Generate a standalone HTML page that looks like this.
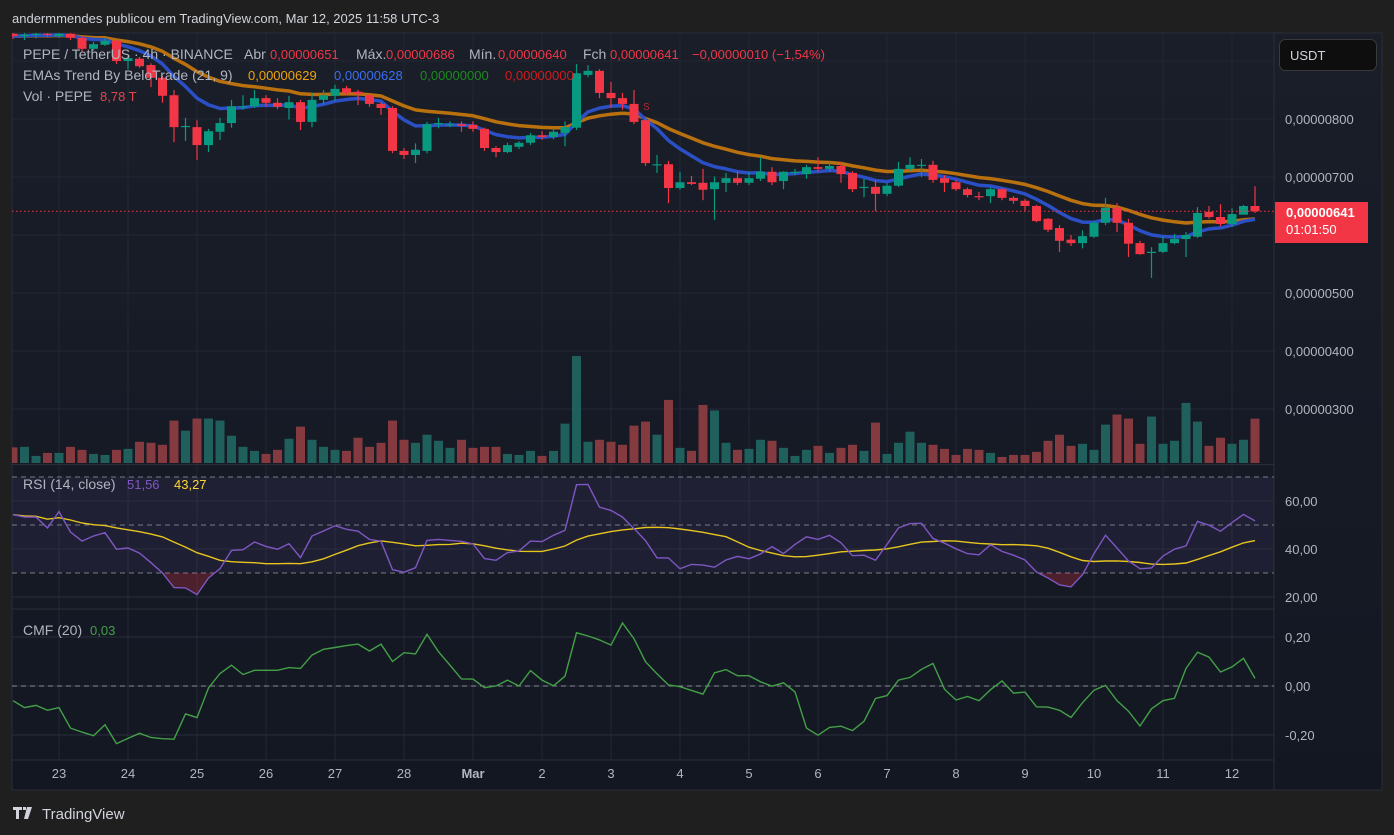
<!DOCTYPE html>
<html><head><meta charset="utf-8">
<style>
html,body{margin:0;padding:0;background:#1f1f1f;}
svg{display:block;font-family:"Liberation Sans",sans-serif;}
</style></head>
<body>
<svg id="chart" width="1394" height="835" viewBox="0 0 1394 835" xmlns="http://www.w3.org/2000/svg">
<defs>
<linearGradient id="bgGrad" x1="0" y1="0" x2="0" y2="1">
<stop offset="0" stop-color="#1a1e29"/><stop offset="1" stop-color="#131722"/>
</linearGradient>
<clipPath id="mainClip"><rect x="12" y="33" width="1262" height="430"/></clipPath>
<clipPath id="rsiClip"><rect x="12" y="466" width="1262" height="142"/></clipPath>
<clipPath id="osClip"><rect x="12" y="573" width="1262" height="40"/></clipPath>
<clipPath id="cmfClip"><rect x="12" y="610" width="1262" height="150"/></clipPath>
</defs>
<rect x="0" y="0" width="1394" height="835" fill="#1f1f1f"/>
<text x="12" y="23" font-size="13" fill="#d1d4dc">andermmendes publicou em TradingView.com, Mar 12, 2025 11:58 UTC-3</text>
<rect x="12" y="33" width="1370" height="757" fill="url(#bgGrad)" stroke="#2a2e39" stroke-width="1"/>
<g id="grid"></g>
<g id="volume" clip-path="url(#mainClip)"></g>
<g id="emas" clip-path="url(#mainClip)"></g>
<g id="candles" clip-path="url(#mainClip)"></g>
<line x1="12" y1="211" x2="1274" y2="211" stroke="#f23645" stroke-width="1" stroke-dasharray="1.5 2.5" id="lastLine"/>
<text x="643" y="110" font-size="10" fill="#b22833">S</text>
<line x1="12" y1="464.5" x2="1274" y2="464.5" stroke="#2a2e39"/>
<line x1="12" y1="609" x2="1274" y2="609" stroke="#2a2e39"/>
<line x1="12" y1="760" x2="1274" y2="760" stroke="#2a2e39"/>
<line x1="1274" y1="33" x2="1274" y2="790" stroke="#2a2e39"/>
<g id="rsi"></g>
<g id="cmf"></g>
<g id="axes"></g>

<g font-size="13">
<text x="23" y="59" font-size="14" fill="#b2b5be">PEPE / TetherUS · 4h · BINANCE</text>
<text x="244" y="59" font-size="14" fill="#b2b5be">Abr</text>
<text x="270" y="59" fill="#f23645">0,00000651</text>
<text x="356" y="59" font-size="14" fill="#b2b5be">Máx.</text>
<text x="386" y="59" fill="#f23645">0,00000686</text>
<text x="469" y="59" font-size="14" fill="#b2b5be">Mín.</text>
<text x="498" y="59" fill="#f23645">0,00000640</text>
<text x="583" y="59" font-size="14" fill="#b2b5be">Fch</text>
<text x="610" y="59" fill="#f23645">0,00000641</text>
<text x="692" y="59" fill="#f23645">−0,00000010 (−1,54%)</text>
<text x="23" y="80" font-size="14" fill="#b2b5be">EMAs Trend By BeloTrade (21, 9)</text>
<text x="248" y="80" fill="#f0a30a">0,00000629</text>
<text x="334" y="80" fill="#3b6ef0">0,00000628</text>
<text x="420" y="80" fill="#1b8a1b">0,00000000</text>
<text x="505" y="80" fill="#d01c1c">0,00000000</text>
<text x="23" y="101" font-size="14" fill="#b2b5be">Vol · PEPE</text>
<text x="100" y="101" fill="#e0484f">8,78 T</text>
<text x="23" y="489" font-size="14" fill="#b2b5be">RSI (14, close)</text>
<text x="127" y="489" fill="#7e57c2">51,56</text>
<text x="174" y="489" fill="#fdd835">43,27</text>
<text x="23" y="635" font-size="14" fill="#b2b5be">CMF (20)</text>
<text x="90" y="635" fill="#43a047">0,03</text>
</g>

<rect x="1279.5" y="39.5" width="97" height="31" rx="6" fill="#0e0e0e" stroke="#3a3a3a"/>
<text x="1290" y="60" font-size="13" fill="#d1d4dc">USDT</text>
<rect x="1275" y="202" width="93" height="41" fill="#f23645"/>
<text x="1286" y="217" font-size="13" font-weight="bold" fill="#ffffff">0,00000641</text>
<text x="1286" y="234" font-size="13" fill="#ffffff">01:01:50</text>

<g>
<path d="M13 807h9v3h-3v9h-3v-9h-3z M23 807h3v3h-3z M27 807h5l-4 12h-4z" fill="#d1d4dc"/>
<text x="42" y="819" font-size="15" fill="#d1d4dc">TradingView</text>
</g>
</svg>
<script>
const dayLabels = ["23","24","25","26","27","28","Mar","2","3","4","5","6","7","8","9","10","11","12"];
const opens = [947,943,945,947,943,947,940,921,928,935,900,904,893,871,841,788,786,755,778,793,822,822,836,828,819,829,795,833,840,853,847,841,826,819,745,738,745,793,791,791,790,783,750,743,752,759,772,769,776,785,876,883,845,836,826,798,722,722,681,691,690,679,690,698,690,697,709,693,709,705,717,714,719,707,683,683,671,685,714,721,721,698,691,679,667,667,679,664,659,650,628,612,592,586,597,621,647,621,586,571,571,586,593,597,640,631,619,635,650];
const closes = [943,945,947,945,947,940,921,929,935,900,905,891,871,840,786,788,755,779,793,822,822,836,828,821,829,795,833,841,852,845,843,826,819,745,738,747,791,793,791,788,783,750,743,755,759,772,769,778,786,879,883,845,836,826,795,724,722,681,691,688,678,691,698,690,698,709,691,709,709,717,714,719,705,679,683,671,685,714,721,721,695,690,679,669,666,679,664,659,650,624,609,590,586,598,621,647,621,585,567,571,586,593,600,638,631,619,636,650,641];
const highs = [952,950,953,950,950,948,943,933,940,936,909,907,896,874,850,802,798,783,802,833,841,850,841,836,840,833,845,850,859,857,850,845,829,822,750,758,795,802,796,796,796,785,753,759,762,776,779,783,796,895,893,886,864,845,850,801,738,728,709,702,714,701,707,709,709,734,717,710,714,721,734,726,726,710,697,695,690,726,734,731,728,703,695,682,674,682,681,667,662,652,629,617,600,608,624,664,655,628,590,579,598,602,605,648,650,653,646,652,684];
const lows = [938,936,939,941,940,936,916,918,926,895,886,888,855,828,760,762,729,743,764,785,816,819,822,817,799,781,786,826,831,841,824,821,807,741,731,724,741,784,786,778,778,745,734,741,748,755,764,765,753,781,872,836,819,816,791,719,707,655,678,686,660,626,674,686,686,693,686,679,703,697,709,709,690,674,665,641,667,683,710,700,690,674,676,665,660,655,660,654,641,622,605,571,581,577,595,617,605,562,566,526,569,584,562,595,628,615,614,638,638];
const volumes = [3.1,3.2,1.4,2.0,2.0,3.2,2.6,1.8,1.6,2.6,2.8,4.2,4.0,3.6,8.4,6.4,8.8,8.8,8.4,5.4,3.2,2.4,1.8,2.6,4.8,7.2,4.6,3.2,2.6,2.4,5.0,3.2,4.0,8.4,4.6,4.0,5.6,4.4,3.0,4.6,3.0,3.2,3.2,1.8,1.6,2.4,1.4,2.4,7.8,21.2,4.2,4.6,4.2,3.6,7.4,8.2,5.6,12.5,3.0,2.4,11.5,10.4,4.0,2.6,2.8,4.6,4.4,3.0,1.4,2.6,3.4,2.0,3.0,3.6,2.4,8.0,1.8,4.0,6.2,4.0,3.6,2.8,1.6,2.8,2.6,2.0,1.2,1.6,1.6,2.2,4.4,5.6,3.4,3.8,2.6,7.6,9.6,8.8,3.8,9.2,3.8,4.4,11.9,8.2,3.4,5.0,3.8,4.6,8.78];
const rsiValues = [54.3,53.3,53.3,48.8,55.6,47.1,43.3,45.4,46.8,39.9,40.4,38.3,34.3,30.0,23.9,23.8,21.0,27.9,31.8,39.4,39.7,42.9,41.1,39.9,42.2,36.4,45.4,47.5,49.7,48.2,47.4,44.0,43.2,31.4,30.3,32.2,43.6,44.0,43.6,43.2,42.1,36.0,35.3,38.5,39.2,43.3,43.1,45.7,47.8,66.8,66.9,57.4,56.1,53.3,48.5,43.5,36.3,36.3,31.8,33.6,33.3,32.4,35.4,36.9,35.9,37.9,41.0,38.1,41.9,45.1,44.0,45.7,42.6,37.2,37.4,35.3,41.9,48.8,50.6,50.7,44.4,42.4,40.1,38.1,37.6,41.8,39.0,37.4,35.4,30.4,27.9,25.1,24.2,29.3,38.1,45.7,40.4,35.0,31.8,32.1,37.1,39.9,41.3,51.5,49.9,47.4,51.0,54.4,51.7];
const cmfValues = [-0.060,-0.088,-0.079,-0.099,-0.088,-0.172,-0.188,-0.203,-0.158,-0.235,-0.214,-0.193,-0.210,-0.215,-0.217,-0.114,-0.129,-0.008,0.051,0.085,0.047,0.064,0.064,0.064,0.075,0.072,0.126,0.150,0.157,0.165,0.171,0.143,0.171,0.100,0.136,0.131,0.211,0.140,0.085,0.029,0.028,-0.007,0,0.024,0,0.063,0.024,0.001,0.040,0.217,0.204,0.188,0.167,0.257,0.193,0.099,0.050,0.004,-0.003,-0.018,-0.033,0.054,0.067,0.042,0.042,0.017,-0.001,0.013,-0.024,-0.172,-0.201,-0.169,-0.164,-0.182,-0.144,-0.051,-0.039,0.024,0.035,0.068,0.092,-0.013,-0.057,-0.043,-0.060,-0.015,0.021,-0.029,-0.025,-0.085,-0.086,-0.099,-0.128,-0.068,-0.017,0.003,-0.060,-0.103,-0.163,-0.093,-0.060,-0.050,0.072,0.138,0.118,0.057,0.078,0.113,0.031];
const priceTicks = [900,800,700,600,500,400,300];
const priceTickLabels = ["","0,00000800","0,00000700","","0,00000500","0,00000400","0,00000300"];
const rsiTicks = [60,40,20];
const rsiTickLabels = ["60,00","40,00","20,00"];
const cmfTicks = [0.2,0,-0.2];
const cmfTickLabels = ["0,20","0,00","-0,20"];

const NS = "http://www.w3.org/2000/svg";
function el(tag, attrs, parent){const e=document.createElementNS(NS,tag);for(const k in attrs)e.setAttribute(k,attrs[k]);parent.appendChild(e);return e;}
const FIRST = -4;
function xAt(k){return 59 + (k + FIRST) * 11.5;}
function dayX(d){return 59 + d * 69;}
function yPrice(v){return 119 + (800 - v) * 0.58;}
function yVol(v){return 463 - v * 5.05;}
function yRsi(v){return 501 + (60 - v) * 2.4;}
function yCmf(v){return 686 - v * 245;}

const grid = document.getElementById('grid');
dayLabels.forEach((d,i)=>{
  const l = el('line',{x1:dayX(i),x2:dayX(i),y1:33,y2:760,stroke:'#232734','stroke-width':1},grid);
  
  
});
priceTicks.forEach(v=>{
  const l = el('line',{x1:12,x2:1274,y1:yPrice(v),y2:yPrice(v),stroke:'#232734'},grid);
  
  
});

const vg = document.getElementById('volume');
volumes.forEach((v,k)=>{
  const up = closes[k] >= opens[k];
  const r = el('rect',{x:xAt(k)-4.5,y:yVol(v),width:9,height:463-yVol(v),fill:up?'#1f5f5c':'#843a3e'},vg);
  
  
});

function ema(arr,n){const a=2/(n+1);const out=[];let p=arr[0];arr.forEach((v,i)=>{p=i===0?v:(v*a+p*(1-a));out.push(p);});return out;}
const ema21 = ema(closes,21), ema9 = ema(closes,9);
const eg = document.getElementById('emas');
function poly(arr,yf){return arr.map((v,k)=>xAt(k).toFixed(1)+','+yf(v).toFixed(1)).join(' ');}
const e21 = el('polyline',{points:poly(ema21,yPrice),fill:'none',stroke:'#b9700e','stroke-width':3.5,'stroke-linejoin':'round'},eg);


const e9 = el('polyline',{points:poly(ema9,yPrice),fill:'none',stroke:'#2b4fc4','stroke-width':3.5,'stroke-linejoin':'round'},eg);



const cg = document.getElementById('candles');
closes.forEach((c,k)=>{
  const o=opens[k], up=c>=o, col=up?'#089981':'#f23645', x=xAt(k);
  const w = el('line',{x1:x,x2:x,y1:yPrice(highs[k]),y2:yPrice(lows[k]),stroke:col,'stroke-width':1.2},cg);
  
  
  const top=yPrice(Math.max(o,c)), bot=yPrice(Math.min(o,c));
  const b = el('rect',{x:x-4.5,y:top,width:9,height:Math.max(1.2,bot-top),fill:col},cg);
  
  
});
document.getElementById('lastLine').setAttribute('y1',yPrice(closes[closes.length-1]));
document.getElementById('lastLine').setAttribute('y2',yPrice(closes[closes.length-1]));

const rg = document.getElementById('rsi');
const band = el('rect',{x:12,y:yRsi(70),width:1262,height:yRsi(30)-yRsi(70),fill:'rgba(126,87,194,0.1)'},rg);


rsiTicks.forEach(v=>{
  const l=el('line',{x1:12,x2:1274,y1:yRsi(v),y2:yRsi(v),stroke:'#2a2e3b'},rg);
  
  
});
[70,50,30].forEach(v=>{
  const l=el('line',{x1:12,x2:1274,y1:yRsi(v),y2:yRsi(v),stroke:'#787b86','stroke-dasharray':'5 4','stroke-width':1},rg);
  
  
});
const rsiPts = poly(rsiValues,yRsi);
const osFill = el('polygon',{points:xAt(0)+','+yRsi(30)+' '+rsiPts+' '+xAt(rsiValues.length-1)+','+yRsi(30),fill:'rgba(242,54,69,0.25)','clip-path':'url(#osClip)'},rg);


const rsiMA = rsiValues.map((v,i)=>{const s=rsiValues.slice(Math.max(0,i-13),i+1);return s.reduce((a,b)=>a+b,0)/s.length;});
const maLine = el('polyline',{points:poly(rsiMA,yRsi),fill:'none',stroke:'#e6c51f','stroke-width':1.4,'clip-path':'url(#rsiClip)'},rg);


const rsiLine = el('polyline',{points:rsiPts,fill:'none',stroke:'#7e57c2','stroke-width':1.4,'clip-path':'url(#rsiClip)'},rg);



const mg = document.getElementById('cmf');
cmfTicks.forEach(v=>{
  const l=el('line',{x1:12,x2:1274,y1:yCmf(v),y2:yCmf(v),stroke:'#2a2e3b'},mg);
  
  
});
const zl = el('line',{x1:12,x2:1274,y1:yCmf(0),y2:yCmf(0),stroke:'#8a8d96','stroke-dasharray':'5 4'},mg);


const cmfLine = el('polyline',{points:poly(cmfValues,yCmf),fill:'none',stroke:'#43a047','stroke-width':1.4,'clip-path':'url(#cmfClip)'},mg);



const ag = document.getElementById('axes');
priceTicks.forEach((v,i)=>{
  if(!priceTickLabels[i]) return;
  const t=el('text',{x:1285,y:yPrice(v)+5,'font-size':13,fill:'#b2b5be'},ag);
  t.textContent=priceTickLabels[i];
  
  
});
rsiTicks.forEach((v,i)=>{
  const t=el('text',{x:1285,y:yRsi(v)+5,'font-size':13,fill:'#b2b5be'},ag);
  t.textContent=rsiTickLabels[i];
  
  
});
cmfTicks.forEach((v,i)=>{
  const t=el('text',{x:1285,y:yCmf(v)+5,'font-size':13,fill:'#b2b5be'},ag);
  t.textContent=cmfTickLabels[i];
  
  
});
dayLabels.forEach((d,i)=>{
  const t=el('text',{x:dayX(i),y:778,'font-size':13,fill:'#b2b5be','text-anchor':'middle','font-weight':d==='Mar'?'bold':'normal'},ag);
  t.textContent=d;
  
  
});
</script>
</body></html>
